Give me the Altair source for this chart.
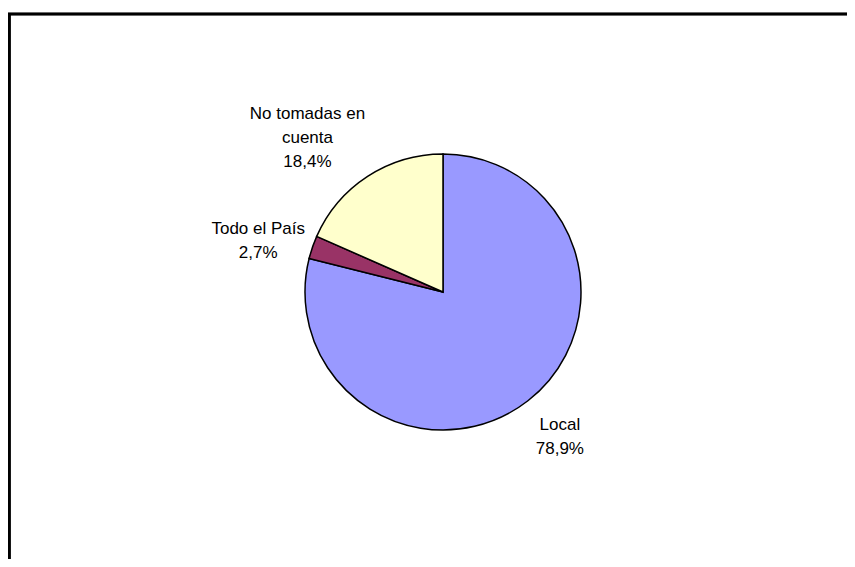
import altair as alt
import pandas as pd
import math

categories = ["Local", "Todo el País", "No tomadas en cuenta"]
values = [78.9, 2.7, 18.4]
label_lines = ["Local\n78,9%", "Todo el País\n2,7%", "No tomadas en\ncuenta\n18,4%"]
colors = ["#9999FF", "#993366", "#FFFFCC"]
order_idx = [0, 1, 2]

df = pd.DataFrame({"cat": categories, "val": values, "lab": label_lines, "idx": order_idx})

W, H = 839, 551
CX, CY = 435, 284
R = 138

pie = alt.Chart(df).mark_arc(radius=R, stroke="black", strokeWidth=1.5).encode(
    theta=alt.Theta("val:Q", stack=True),
    order=alt.Order("idx:Q"),
    x=alt.value(CX),
    y=alt.value(CY),
    color=alt.Color("cat:N", scale=alt.Scale(domain=categories, range=colors), legend=None),
)

def label(cat, radius, dx=0, dy=0):
    return alt.Chart(df).transform_window(
        cum="sum(val)", sort=[alt.SortField("idx")]
    ).transform_joinaggregate(
        tot="sum(val)"
    ).transform_calculate(
        mid="(datum.cum - datum.val / 2) / datum.tot"
    ).transform_filter(
        alt.datum.cat == cat
    ).mark_text(
        radius=radius, dx=dx, dy=dy, font="Liberation Sans", fontSize=17,
        lineBreak="\n", lineHeight=24, align="center", baseline="middle", color="black"
    ).encode(
        theta=alt.Theta("mid:Q", scale=alt.Scale(domain=[0, 1], range=[0, 2 * math.pi])),
        x=alt.value(CX),
        y=alt.value(CY),
        text="lab:N",
    )

labels = [
    label("Local", 185, 3, -13),
    label("Todo el País", 190, -5, -1),
    label("No tomadas en cuenta", 206, -23, -5),
]

frame_left = alt.Chart(df).mark_rule(color="black", strokeWidth=2.5).encode(
    x=alt.value(1.3), y=alt.value(6), y2=alt.value(H)
)
frame_top = alt.Chart(df).mark_rule(color="black", strokeWidth=2.5).encode(
    x=alt.value(0), x2=alt.value(W), y=alt.value(6)
)

chart = alt.layer(pie, *labels, frame_left, frame_top).resolve_scale(
    theta="independent"
).properties(
    width=W, height=H, padding=0, autosize=alt.AutoSizeParams(type="none")
).configure_view(stroke=None)

chart.save("out.html", embed_options={"renderer": "svg", "actions": False})
